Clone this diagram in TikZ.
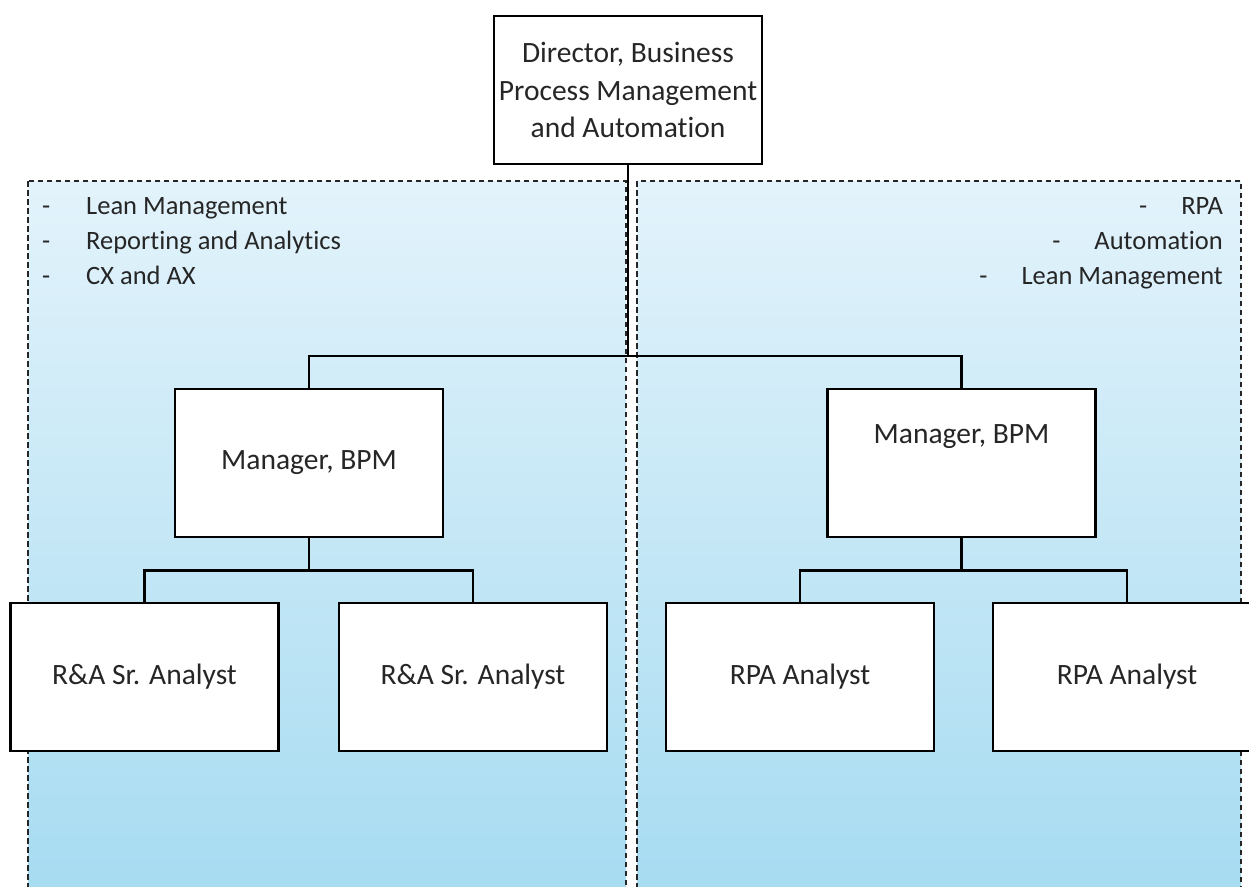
\documentclass[tikz,border=0pt]{standalone}
\usepackage{fontspec}
\setmainfont{Carlito}[Ligatures=NoCommon]
\definecolor{paneltop}{RGB}{227,243,251}
\definecolor{panelbottom}{RGB}{166,219,241}
\definecolor{ink}{RGB}{38,38,38}
\begin{document}
\begin{tikzpicture}[x=1pt,y=-1pt,
  panel/.style={draw=black!85, line width=1.2pt, dash pattern=on 5.5pt off 3.5pt,
    top color=paneltop, bottom color=panelbottom},
  role/.style={draw=black, line width=2.9pt, fill=white, minimum width=268pt,
    minimum height=148pt, inner sep=0pt, align=center, text=ink,
    font=\fontsize{29.5}{37.5}\selectfont},
  link/.style={draw=black, line width=2.9pt},
  note/.style={inner sep=0pt, text=ink, font=\fontsize{26.5}{35}\selectfont}]
\useasboundingbox (0,0) rectangle (1249,886);
\clip (0,0) rectangle (1249,886);

% two focus areas, shaded and framed with dashes
\path[panel] (28,181) rectangle (626,900);
\path[panel] (637,181) rectangle (1241,900);

% focus-area lists
\node[note, anchor=base west] (la1) at (42,214) {\makebox[44pt][l]{-}Lean Management};
\node[note, anchor=base west] (la2) at (42,249) {\makebox[44pt][l]{-}Reporting and Analytics};
\node[note, anchor=base west] (la3) at (42,284) {\makebox[44pt][l]{-}CX and AX};
\node[note, anchor=base east] (ra1) at (1223,214) {-\hspace{34pt}RPA};
\node[note, anchor=base east] (ra2) at (1223,249) {-\hspace{34pt}Automation};
\node[note, anchor=base east] (ra3) at (1223,284) {-\hspace{34pt}Lean Management};

% roles
\node[role] (dir) at (628,90) {Director, Business\\Process Management\\and Automation};
\node[role] (mgrL) at (309,463) {Manager, BPM};
\node[role, text height=19pt, text depth=58pt] (mgrR) at (961.5,463) {Manager, BPM};
\node[role] (raA) at (144.5,677) {R\&A Sr. Analyst};
\node[role] (raB) at (473,677) {R\&A Sr. Analyst};
\node[role] (rpaA) at (800,677) {RPA Analyst};
\node[role] (rpaB) at (1127,677) {RPA Analyst};

% reporting lines
\coordinate (hub) at (628,356);
\path (mgrL.south) ++(0,32) coordinate (hubL);
\path (mgrR.south) ++(0,32) coordinate (hubR);
\draw[link] (dir.south) -- (hub);
\draw[link] (hub) -| (mgrL.north);
\draw[link] (hub) -| (mgrR.north);
\draw[link] (mgrL.south) -- (hubL);
\draw[link] (hubL) -| (raA.north);
\draw[link] (hubL) -| (raB.north);
\draw[link] (mgrR.south) -- (hubR);
\draw[link] (hubR) -| (rpaA.north);
\draw[link] (hubR) -| (rpaB.north);
\end{tikzpicture}
\end{document}
